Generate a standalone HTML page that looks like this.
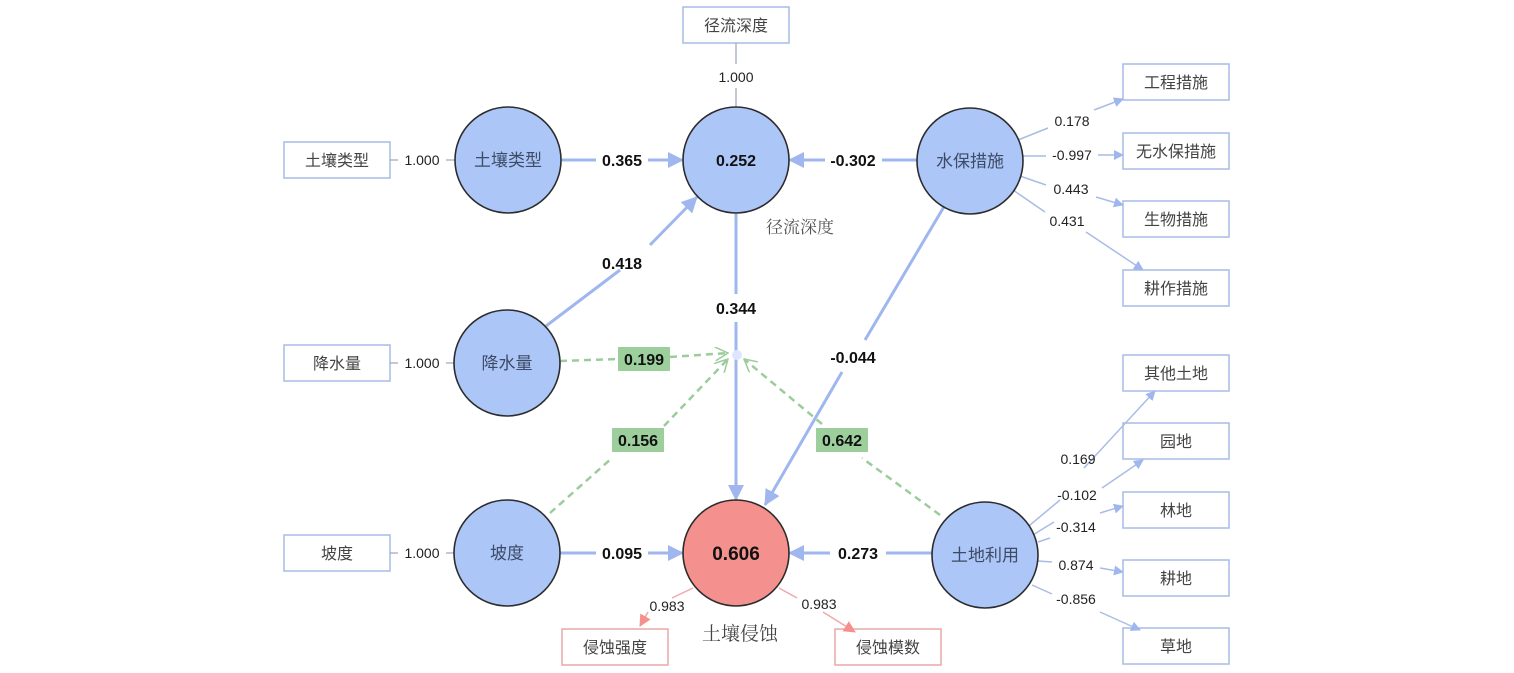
<!DOCTYPE html>
<html><head><meta charset="utf-8"><style>
html,body{margin:0;padding:0;background:#fff;}
svg{display:block;}
text{font-family:"Liberation Sans","Noto Sans CJK SC",sans-serif;}
.cn{font-family:"Liberation Serif","Noto Serif CJK SC",serif;}
</style></head><body>
<svg width="1514" height="673" viewBox="0 0 1514 673" xmlns="http://www.w3.org/2000/svg">
<defs>
<marker id="a" markerWidth="10" markerHeight="10" refX="9" refY="5" orient="auto" markerUnits="userSpaceOnUse" viewBox="0 0 10 10"><path d="M0,0 L10,5 L0,10 z" fill="#9fb6ee"/></marker>
<marker id="ab" markerWidth="16" markerHeight="16" refX="15" refY="8" orient="auto" markerUnits="userSpaceOnUse" viewBox="0 0 16 16"><path d="M0,0 L16,8 L0,16 z" fill="#9fb6ee"/></marker>
<marker id="ar" markerWidth="12" markerHeight="12" refX="11" refY="6" orient="auto" markerUnits="userSpaceOnUse" viewBox="0 0 12 12"><path d="M0,0 L12,6 L0,12 z" fill="#f4908e"/></marker>
<marker id="ag" markerWidth="14" markerHeight="14" refX="13" refY="7" orient="auto" markerUnits="userSpaceOnUse" viewBox="0 0 14 14"><path d="M0,0 L13,7 L0,14" fill="none" stroke="#9ccc9c" stroke-width="1.5"/></marker>
</defs>

<!-- boxes -->
<g fill="#fff" stroke="#a9bce6" stroke-width="1.5">
<rect x="284" y="142" width="106" height="36"/>
<rect x="284" y="345" width="106" height="36"/>
<rect x="284" y="535" width="106" height="36"/>
<rect x="683" y="7" width="106" height="36"/>
<rect x="1123" y="64" width="106" height="36"/>
<rect x="1123" y="133" width="106" height="36"/>
<rect x="1123" y="201" width="106" height="36"/>
<rect x="1123" y="270" width="106" height="36"/>
<rect x="1123" y="355" width="106" height="36"/>
<rect x="1123" y="423" width="106" height="36"/>
<rect x="1123" y="492" width="106" height="36"/>
<rect x="1123" y="560" width="106" height="36"/>
<rect x="1123" y="628" width="106" height="36"/>
</g>
<g fill="#fff" stroke="#e8a8a8" stroke-width="1.5">
<rect x="562" y="629" width="106" height="36"/>
<rect x="835" y="629" width="106" height="36"/>
</g>

<!-- thin lines left -->
<g stroke="#9aa6bf" stroke-width="1.2">
<line x1="390" y1="160" x2="398" y2="160"/><line x1="446" y1="160" x2="455" y2="160"/>
<line x1="390" y1="363" x2="398" y2="363"/><line x1="446" y1="363" x2="455" y2="363"/>
<line x1="390" y1="553" x2="398" y2="553"/><line x1="446" y1="553" x2="455" y2="553"/>
<line x1="736" y1="43" x2="736" y2="64"/><line x1="736" y1="88" x2="736" y2="107"/>
</g>

<!-- right thin arrows -->
<g stroke="#a9bce6" stroke-width="1.5" fill="none" marker-end="url(#a)">
<path d="M1018,140 L1048,128 M1094,110 L1123,99"/>
<path d="M1023,156 L1046,156 M1098,155 L1123,155"/>
<path d="M1020,176 L1046,185 M1096,197 L1123,205"/>
<path d="M1013,190 L1045,212 M1086,232 L1143,270"/>
<path d="M1024,530 L1060,500 M1084,468 L1155,391"/>
<path d="M1028,538 L1054,522 M1102,488 L1143,460"/>
<path d="M1038,542 L1050,538 M1100,513 L1123,506"/>
<path d="M1038,561 L1052,562 M1100,568 L1123,572"/>
<path d="M1032,585 L1052,594 M1100,612 L1140,630"/>
</g>
<g stroke="none" fill="none"></g>

<!-- red arrows -->
<g stroke="#f0a8a8" stroke-width="1.5" fill="none" marker-end="url(#ar)">
<path d="M693,588 L672,598 M648,612 L640,626"/>
<path d="M779,588 L797,598 M823,612 L855,632"/>
</g>

<!-- thick blue paths -->
<g stroke="#9fb6ee" stroke-width="3" fill="none" marker-end="url(#ab)">
<path d="M560,160 L596,160 M648,160 L683,160"/>
<path d="M917,160 L882,160 M825,160 L789,160"/>
<path d="M546,326 L620,270 M650,245 L697,197"/>
<path d="M736,213 L736,294 M736,322 L736,500"/>
<path d="M945,205 L865,340 M842,372 L765,505"/>
<path d="M560,553 L596,553 M648,553 L683,553"/>
<path d="M932,553 L886,553 M830,553 L789,553"/>
</g>

<!-- green dashed -->
<g stroke="#9ccc9c" stroke-width="2.5" stroke-dasharray="7,5" fill="none">
<path d="M560,361 L618,359"/>
<path d="M670,357 L728,353" marker-end="url(#ag)"/>
<path d="M550,513 L612,458"/>
<path d="M664,426 L728,359" marker-end="url(#ag)"/>
<path d="M940,515 L862,458"/>
<path d="M822,424 L744,359" marker-end="url(#ag)"/>
</g>
<circle cx="737" cy="355" r="5" fill="#dde6fb"/>

<!-- green labels -->
<g fill="#9dcf9d">
<rect x="618" y="347" width="52" height="24"/>
<rect x="612" y="428" width="52" height="24"/>
<rect x="816" y="428" width="52" height="24"/>
</g>

<!-- circles -->
<g stroke="#2c2c2c" stroke-width="1.6">
<circle cx="508" cy="160" r="53" fill="#abc6f7"/>
<circle cx="736" cy="160" r="53" fill="#abc6f7"/>
<circle cx="970" cy="161" r="53" fill="#abc6f7"/>
<circle cx="507" cy="363" r="53" fill="#abc6f7"/>
<circle cx="507" cy="553" r="53" fill="#abc6f7"/>
<circle cx="736" cy="553" r="53" fill="#f4908e"/>
<circle cx="985" cy="555" r="53" fill="#abc6f7"/>
</g>

<!-- box text -->
<g class="cn" font-size="16" fill="#444" text-anchor="middle">
<text x="337" y="166">土壤类型</text>
<text x="337" y="369">降水量</text>
<text x="337" y="559">坡度</text>
<text x="736" y="31">径流深度</text>
<text x="1176" y="88">工程措施</text>
<text x="1176" y="157">无水保措施</text>
<text x="1176" y="225">生物措施</text>
<text x="1176" y="294">耕作措施</text>
<text x="1176" y="379">其他土地</text>
<text x="1176" y="447">园地</text>
<text x="1176" y="516">林地</text>
<text x="1176" y="584">耕地</text>
<text x="1176" y="652">草地</text>
<text x="615" y="653">侵蚀强度</text>
<text x="888" y="653">侵蚀模数</text>
</g>
<g class="cn" font-size="17" fill="#3e4a66" text-anchor="middle">
<text x="508" y="166">土壤类型</text>
<text x="970" y="167">水保措施</text>
<text x="507" y="369">降水量</text>
<text x="507" y="559">坡度</text>
<text x="985" y="561">土地利用</text>
</g>
<text class="cn" x="800" y="233" font-size="17" fill="#555" text-anchor="middle">径流深度</text>
<text class="cn" x="740" y="640" font-size="19" fill="#444" text-anchor="middle">土壤侵蚀</text>

<!-- bold numbers -->
<g font-size="16" font-weight="bold" fill="#111" text-anchor="middle">
<text x="736" y="166">0.252</text>
<text x="622" y="166">0.365</text>
<text x="853" y="166">-0.302</text>
<text x="622" y="269">0.418</text>
<text x="736" y="314">0.344</text>
<text x="853" y="363">-0.044</text>
<text x="644" y="365">0.199</text>
<text x="638" y="446">0.156</text>
<text x="842" y="446">0.642</text>
<text x="622" y="559">0.095</text>
<text x="858" y="559">0.273</text>
</g>
<text x="736" y="560" font-size="19" font-weight="bold" fill="#111" text-anchor="middle">0.606</text>

<!-- small numbers -->
<g font-size="14" fill="#222" text-anchor="middle">
<text x="422" y="165">1.000</text>
<text x="422" y="368">1.000</text>
<text x="422" y="558">1.000</text>
<text x="736" y="82">1.000</text>
<text x="1072" y="126">0.178</text>
<text x="1072" y="160">-0.997</text>
<text x="1071" y="194">0.443</text>
<text x="1067" y="226">0.431</text>
<text x="1078" y="464">0.169</text>
<text x="1077" y="500">-0.102</text>
<text x="1076" y="532">-0.314</text>
<text x="1076" y="570">0.874</text>
<text x="1076" y="604">-0.856</text>
<text x="667" y="611">0.983</text>
<text x="819" y="609">0.983</text>
</g>
</svg>
</body></html>
